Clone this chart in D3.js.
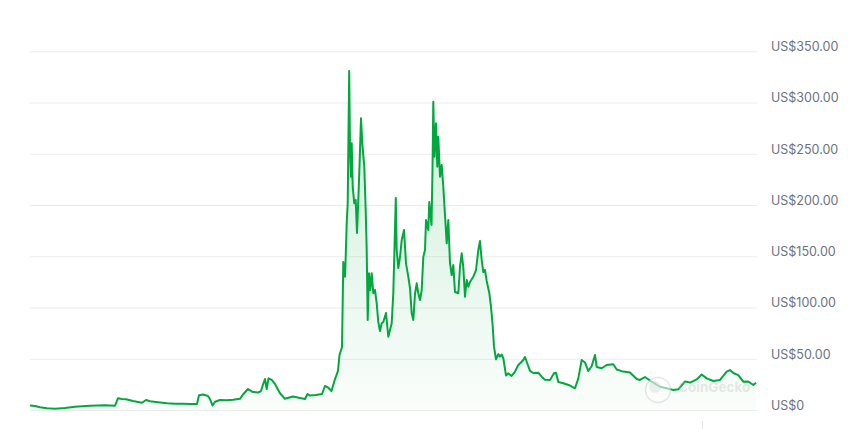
<!DOCTYPE html>
<html>
<head>
<meta charset="utf-8">
<script src="https://cdn.jsdelivr.net/npm/d3@7"></script>
<style>
  html, body { margin: 0; padding: 0; background: #fff; }
  svg { display: block; }
</style>
</head>
<body>
<svg id="chart" width="857" height="429"></svg>
<script>
// time index (relative sample position) and price in USD
const timeIdx = [0,5,10,17,25,35,45,60,75,85,88,92,96,103,112,116,120,128,137,145,153,160,167,169,173,178,180,182.5,185,190,197,203,210,213,218,222,228,231,233.5,235,236.7,238.5,241.7,245,250,255,263,270,275,277.5,280,286,292,295,298,301.5,305,308,309.5,312,313.3,315,315.7,316.7,317.7,319.2,320,321,321.7,322.7,324.3,325.7,327,328.3,329.7,331,332.3,334.3,335.7,336.7,337.7,339,340.3,341.7,343.3,345,346.7,348.3,350,351.7,353.3,356,358.3,361.7,363.3,365.8,366.7,368.3,370,371.7,374,376,378.3,380,381.7,383.3,385,386.7,388.3,390,391.7,393.3,395,396,398.3,399.3,401.5,402.5,403.3,404.5,406,407.3,408.3,410,411.7,413.3,415,416.7,418.3,420,421.7,423.3,425,428.3,430,431.7,433.3,435,436.7,438.3,440,443.3,446,448.3,450,451.7,453.3,455,456.7,459.3,461,462.7,464,466,468.3,470,471.7,473.3,476,478.3,481.7,485,488.3,491.7,493.3,495,496.7,500,503.3,508.3,511.7,515,520,524,526,528.3,533.3,540,545,548.3,551.7,555,558.3,561.7,565,566.7,571.7,576.7,583.3,586.7,591.7,600,606.7,610,615,621.7,630,636.7,643.3,648.3,655,660,666.7,671.7,676.7,683.3,690,696.7,700,703.3,708.3,713.3,718.3,723.3,726];
const price = [4.4,3.9,2.6,1.7,1.3,2.0,3.2,4.2,4.6,4.2,11.4,10.7,10.4,8.8,7.1,9.8,8.5,7.5,6.5,6.1,6.1,5.9,5.9,14.3,15.1,13.7,10.7,4.4,8.1,9.8,9.5,10.0,10.9,15.1,20.5,17.9,17.1,18.5,26.3,30.2,20.5,30.9,29.3,25.4,16.3,10.9,13.2,11.7,10.7,15.6,14.1,14.6,15.6,23.4,22.0,18.5,30.2,38.1,53.7,61.5,144.4,130.1,149.6,182.5,202.0,330.8,253.7,227.6,260.2,217.9,201.7,204.9,172.7,204.9,243.9,284.6,260.2,237.4,195.1,156.1,87.8,133.4,117.1,133.4,113.9,117.1,104.1,85.9,77.1,84.6,85.9,94.6,71.5,84.6,114.2,206.8,156.1,138.5,149.3,165.9,175.6,143.1,130.1,119.0,94.3,87.8,113.2,123.6,113.9,107.3,117.1,149.3,156.1,185.4,175.6,202.9,180.5,234.2,300.8,247.1,279.7,237.4,266.7,227.6,239.0,217.9,190.3,162.6,185.4,143.1,131.7,141.5,115.1,113.9,139.8,152.9,139.5,110.5,126.8,120.3,124.9,130.1,136.6,156.1,164.9,146.4,134.6,136.6,125.9,114.2,100.8,82.0,61.8,49.5,54.6,52.0,54.2,50.7,33.7,35.8,33.2,37.4,43.9,47.1,48.8,51.7,47.1,38.1,36.1,36.4,32.5,29.6,29.3,35.8,36.4,27.3,26.1,23.9,21.2,30.9,48.8,46.3,38.1,42.9,53.7,42.0,40.7,43.9,44.6,39.5,37.9,36.6,30.2,29.3,32.2,27.6,22.7,21.2,19.5,20.2,27.8,26.8,29.8,34.6,30.9,28.3,29.3,37.4,39.0,36.1,34.1,27.6,27.8,24.4,26.6];
const yTicks = [0,50,100,150,200,250,300,350];
const yTickLabels = ["US$0","US$50.00","US$100.00","US$150.00","US$200.00","US$250.00","US$300.00","US$350.00"];

const data = timeIdx.map((t, i) => ({t, v: price[i]}));

const svg = d3.select("#chart");
const margin = {left: 30, right: 101, top: 51.3, bottom: 19};
const W = 857, H = 429;

const x = d3.scaleLinear().domain(d3.extent(timeIdx)).range([margin.left, W - margin.right]);
const y = d3.scaleLinear().domain([0, 350]).range([H - margin.bottom, margin.top]);

const defs = svg.append("defs");
const grad = defs.append("linearGradient").attr("id", "fillGrad")
  .attr("x1", 0).attr("y1", 0).attr("x2", 0).attr("y2", 1);
grad.append("stop").attr("offset", "0%").attr("stop-color", "#00a83e").attr("stop-opacity", 0.2);
grad.append("stop").attr("offset", "100%").attr("stop-color", "#00a83e").attr("stop-opacity", 0.02);

// grid
svg.append("g").selectAll("line").data(yTicks).join("line")
  .attr("x1", margin.left).attr("x2", W - margin.right + 1)
  .attr("y1", d => y(d) + 0.5).attr("y2", d => y(d) + 0.5)
  .attr("stroke", "#ececec").attr("stroke-width", 1);

// labels
svg.append("g").selectAll("text").data(yTicks).join("text")
  .attr("x", 771).attr("y", d => y(d) - 4.5)
  .attr("dy", "0.35em")
  .attr("font-family", "Inter, 'Noto Sans', sans-serif")
  .attr("font-size", 12.5)
  .attr("fill", "#6b7280")
  .text((d, i) => yTickLabels[i]);

// area
const area = d3.area().x(d => x(d.t)).y0(y(0)).y1(d => y(d.v)).curve(d3.curveLinear);
svg.append("path").datum(data).attr("d", area).attr("fill", "url(#fillGrad)");

// line
const line = d3.line().x(d => x(d.t)).y(d => y(d.v)).curve(d3.curveLinear);
svg.append("path").datum(data).attr("d", line)
  .attr("fill", "none").attr("stroke", "#00a83e").attr("stroke-width", 2)
  .attr("stroke-linejoin", "round");

// watermark
const wm = svg.append("g");
wm.append("circle").attr("cx", 658).attr("cy", 390).attr("r", 12.5)
  .attr("fill", "rgba(255,255,255,0.55)").attr("stroke", "rgba(200,200,200,0.45)").attr("stroke-width", 1.5);
wm.append("circle").attr("cx", 655).attr("cy", 387).attr("r", 6)
  .attr("fill", "rgba(210,210,210,0.35)");
wm.append("text").attr("x", 678).attr("y", 392)
  .attr("font-family", "Inter, 'Noto Sans', sans-serif").attr("font-size", 13.5).attr("font-weight", 700)
  .attr("fill", "rgba(190,190,190,0.35)").text("CoinGecko");

// small x tick at bottom
svg.append("line").attr("x1", 702.5).attr("x2", 702.5).attr("y1", 421).attr("y2", 429)
  .attr("stroke", "#e5e5e5").attr("stroke-width", 1);
</script>
</body>
</html>
